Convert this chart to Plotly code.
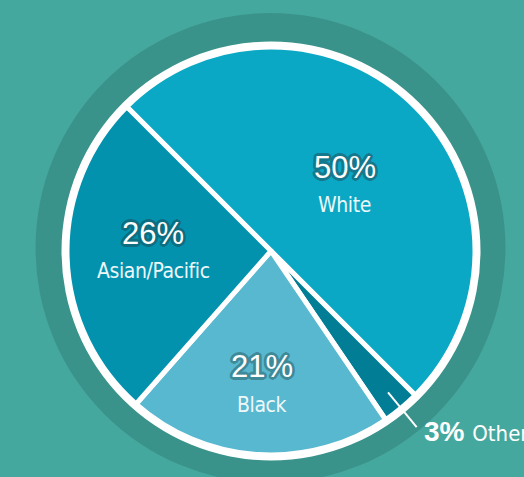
import math
import plotly.graph_objects as go

# ---- data ----
categories = ["White", "Other", "Black", "Asian/Pacific"]
values = [50, 3, 21, 26]
pct_labels = ["50%", "3%", "21%", "26%"]

# ---- style ----
W, H = 524, 477
CX, CY = 271, 251          # pie centre (px)
R = 204                     # pie radius (px)
START = -45                 # first slice starts at 10:30
BG = "#45A89E"
RING = "#3A938B"
slice_colors = ["#0AA8C4", "#017E96", "#58B8CF", "#0392AE"]
outline_colors = ["#16788C", None, "#3F8A99", "#0C6E80"]
label_radius = [0.485, None, 0.657, 0.578]
label_angle_nudge = [3.3, 0, 0.2, 1.8]
NARROW = "DejaVu Sans Condensed, Roboto, sans-serif"
REG = "Liberation Sans, Arial, sans-serif"


def px_to_paper(x, y):
    return x / W, 1 - y / H


def shadow(c):
    o = []
    for k in range(16):
        ang = 2 * math.pi * k / 16
        o.append(f"{2.6 * math.cos(ang):.2f}px {2.6 * math.sin(ang):.2f}px 0 {c}")
    return ", ".join(o)


fig = go.Figure()

x0, y1 = px_to_paper(CX - R, CY - R)
x1, y0 = px_to_paper(CX + R, CY + R)
fig.add_trace(go.Pie(
    labels=categories, values=values, sort=False, direction="clockwise",
    rotation=START, textinfo="none", hoverinfo="label+percent",
    marker=dict(colors=slice_colors, line=dict(color="white", width=5)),
    domain=dict(x=[x0, x1], y=[y0, y1]), showlegend=False,
))

# background ring + white rim
rcx, rcy, rr = 270.5, 248, 235
a, b = px_to_paper(rcx - rr, rcy - rr)
c, d = px_to_paper(rcx + rr, rcy + rr)
fig.add_shape(type="circle", xref="paper", yref="paper", x0=a, x1=c, y0=d, y1=b,
              fillcolor=RING, line_width=0, layer="below")
wr = R + 5.5
a, b = px_to_paper(CX - wr, CY - wr)
c, d = px_to_paper(CX + wr, CY + wr)
fig.add_shape(type="circle", xref="paper", yref="paper", x0=a, x1=c, y0=d, y1=b,
              fillcolor="white", line_width=0, layer="below")

total = sum(values)
cum = 0
for i, (cat, v, pl) in enumerate(zip(categories, values, pct_labels)):
    mid = math.radians(START + 360 * (cum + v / 2) / total + label_angle_nudge[i])
    cum += v
    if label_radius[i] is not None:
        r = label_radius[i] * R
        lx, ly = CX + r * math.sin(mid), CY - r * math.cos(mid)
        px, py = px_to_paper(lx, ly - 18)
        fig.add_annotation(x=px, y=py, xref="paper", yref="paper", text=pl, showarrow=False,
                           xanchor="center", yanchor="middle",
                           font=dict(family=REG, size=31, color="white", shadow=shadow(outline_colors[i])))
        px, py = px_to_paper(lx, ly + 20)
        fig.add_annotation(x=px, y=py, xref="paper", yref="paper", showarrow=False,
                           xanchor="center", yanchor="middle",
                           text=f"<span style='letter-spacing:-0.4px'>{cat}</span>",
                           font=dict(family=NARROW, size=21, color="#EEF8FA"))
    else:
        r0, r1 = 0.9 * R, 1.12 * R
        sx, sy = CX + r0 * math.sin(mid), CY - r0 * math.cos(mid)
        ex, ey = CX + r1 * math.sin(mid), CY - r1 * math.cos(mid)
        p0 = px_to_paper(sx, sy)
        p1 = px_to_paper(ex, ey)
        fig.add_shape(type="line", xref="paper", yref="paper", x0=p0[0], y0=p0[1], x1=p1[0], y1=p1[1],
                      line=dict(color="white", width=2), layer="above")
        tx, ty = px_to_paper(ex + 5, ey + 4)
        fig.add_annotation(x=tx, y=ty, xref="paper", yref="paper", xanchor="left", yanchor="middle",
                           showarrow=False,
                           text=f"<b>{pl}</b> <span style='font-family:{NARROW};font-size:22px'>{cat}</span>",
                           font=dict(family=REG, size=28, color="white"))

fig.update_layout(
    width=W, height=H, margin=dict(l=0, r=0, t=0, b=0),
    paper_bgcolor=BG, plot_bgcolor=BG,
)
fig.write_html("out.html", config={"displayModeBar": False},
               post_script="document.body.style.margin='0';document.body.style.overflow='hidden';")
